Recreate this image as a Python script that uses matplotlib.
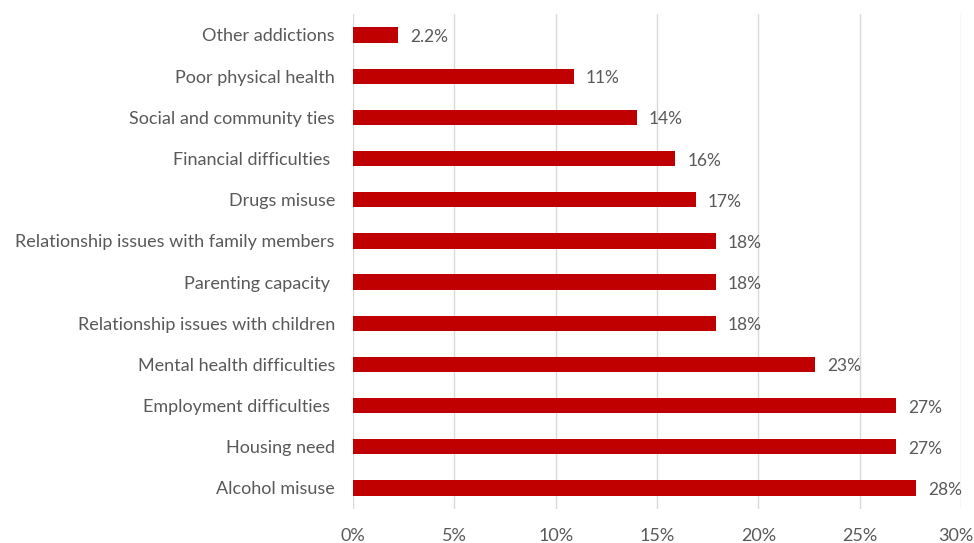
import matplotlib.pyplot as plt
import matplotlib.transforms as mtransforms
from matplotlib.ticker import PercentFormatter

plt.rcParams['font.family'] = ['Lato', 'DejaVu Sans']

# categories from bottom to top
categories = ['Alcohol misuse', 'Housing need', 'Employment difficulties ',
              'Mental health difficulties', 'Relationship issues with children',
              'Parenting capacity ', 'Relationship issues with family members',
              'Drugs misuse', 'Financial difficulties ', 'Social and community ties',
              'Poor physical health', 'Other addictions']
values = [27.8, 26.8, 26.8, 22.8, 17.9, 17.9, 17.9, 16.9, 15.9, 14.0, 10.9, 2.2]
value_labels = ['28%', '27%', '27%', '23%', '18%', '18%', '18%', '17%', '16%',
                '14%', '11%', '2.2%']

text_col = '#595959'
fig = plt.figure(figsize=(9.74, 5.43), dpi=100)
ax = fig.add_axes([0.3624, 0.0634, 0.6243, 0.9101])

y = range(len(categories))
ax.barh(y, values, height=0.37, color='#C00000', zorder=3)
for yi, v, lab in zip(y, values, value_labels):
    ax.text(v + 0.6, yi - 0.05, lab, va='center', ha='left', fontsize=12.5, color=text_col)

ax.set_xlim(0, 30)
ax.set_ylim(-0.5, len(categories) - 0.5)
ax.set_xticks(range(0, 31, 5))
ax.xaxis.set_major_formatter(PercentFormatter(decimals=0))
ax.set_yticks(list(y))
ax.set_yticklabels(categories)
ax.tick_params(axis='both', length=0, labelsize=13, labelcolor=text_col)
ax.tick_params(axis='y', pad=13)
ax.tick_params(axis='x', pad=14)
ax.grid(axis='x', color='#D9D9D9', linewidth=1, zorder=0)
for s in ax.spines.values():
    s.set_visible(False)

# nudge the last x label so it stays inside the figure
fig.canvas.draw()
last = ax.get_xticklabels()[-1]
last.set_transform(last.get_transform() +
                   mtransforms.ScaledTranslation(-4 / 72, 0, fig.dpi_scale_trans))

fig.savefig('out.png', dpi=100)
